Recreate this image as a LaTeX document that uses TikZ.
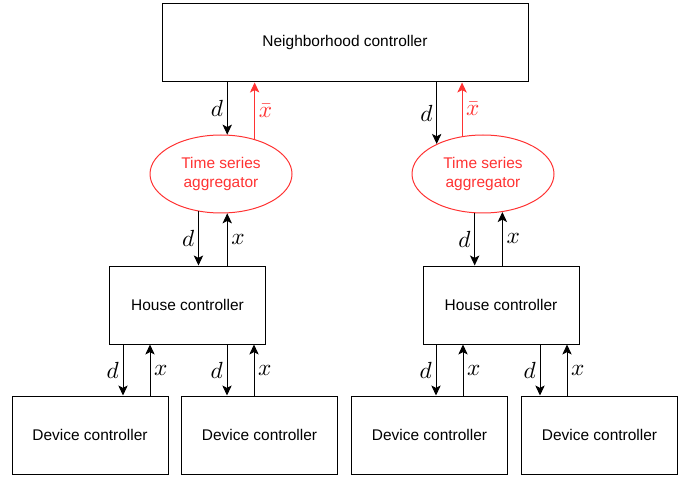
\documentclass[tikz,border=0pt]{standalone}
\usepackage[no-math]{fontspec}
\setmainfont{Liberation Sans}
\usetikzlibrary{arrows.meta,shapes.geometric}
\definecolor{aggred}{RGB}{255,51,51}

\begin{document}
\begin{tikzpicture}[x=0.75pt, y=-0.75pt,
    box/.style={draw, line width=0.75pt, minimum width=117pt, minimum height=58.5pt,
        font=\fontsize{11.6}{14}\selectfont},
    agg/.style={draw=aggred, text=aggred, ellipse, line width=0.75pt, inner sep=0pt,
        minimum width=106.5pt, minimum height=58.5pt, align=center,
        font=\fontsize{11.6}{14}\selectfont},
    arr/.style={line width=0.75pt, -{Stealth[length=7.5pt,width=7pt,inset=1.8pt]}},
    lbl/.style={scale=1.75, inner sep=1.4pt}]

    \useasboundingbox (0,0) rectangle (688,477);

    % top level
    \node[box, minimum width=274.5pt] (nc) at (345,43) {Neighborhood controller};

    % aggregators
    \node[agg] (agg1) at (221,174) {Time series\\aggregator};
    \node[agg] (agg2) at (483,174) {Time series\\aggregator};

    % houses
    \node[box] (hc1) at (187.5,305) {House controller};
    \node[box] (hc2) at (501,305) {House controller};

    % devices
    \node[box] (dev1) at (90,435) {Device controller};
    \node[box] (dev2) at (259.5,435) {Device controller};
    \node[box] (dev3) at (429.5,435) {Device controller};
    \node[box] (dev4) at (599.5,435) {Device controller};

    % neighborhood <-> aggregators
    \draw[arr] (nc.south -| agg1.81) -- node[lbl, left] {$d$} (agg1.81);
    \draw[arr, aggred] (agg1.46) -- node[lbl, right] {$\bar{x}$} (agg1.46 |- nc.south);
    \draw[arr] (nc.south -| agg2.147) -- node[lbl, left] {$d$} (agg2.147);
    \draw[arr, aggred] (agg2.119) -- node[lbl, right] {$\bar{x}$} (agg2.119 |- nc.south);

    % aggregators <-> houses
    \draw[arr] (agg1.239) -- node[lbl, left] {$d$} (agg1.239 |- hc1.north);
    \draw[arr] (hc1.north -| agg1.279) -- node[lbl, right] {$x$} (agg1.279);
    \draw[arr] (agg2.258) -- node[lbl, left] {$d$} (agg2.258 |- hc2.north);
    \draw[arr] (hc2.north -| agg2.297) -- node[lbl, right] {$x$} (agg2.297);

    % houses <-> devices
    \foreach \h/\dv/\xd in {hc1/dev1/123, hc1/dev2/227, hc2/dev3/436, hc2/dev4/540} {
        \coordinate (t) at (\xd,0);
        \draw[arr] (t |- \h.south) -- node[lbl, left] {$d$} (t |- \dv.north);
        \coordinate (t) at (\xd+27,0);
        \draw[arr] (t |- \dv.north) -- node[lbl, right] {$x$} (t |- \h.south);
    }

\end{tikzpicture}
\end{document}
